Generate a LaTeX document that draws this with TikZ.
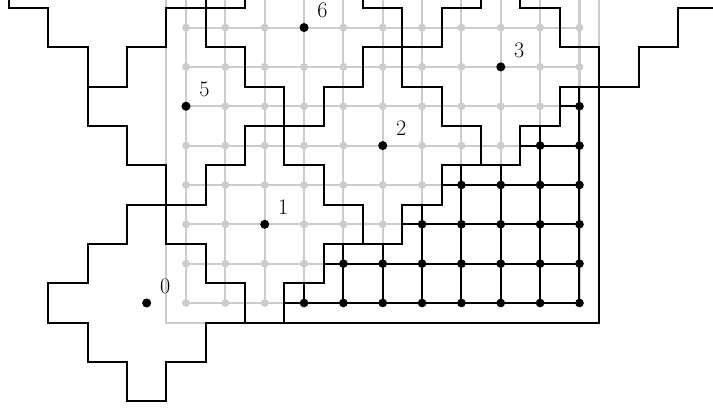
\documentclass[tikz,border=0pt]{standalone}
\begin{document}
\begin{tikzpicture}[x=1cm,y=1cm,
  gridline/.style={draw=black!20, line width=1.5pt},
  griddot/.style={fill=black!20},
  blkedge/.style={draw=black, line width=1.45pt},
  blkdot/.style={fill=black},
  tileline/.style={draw=black, line width=1.45pt, line join=miter},
  centerdot/.style={fill=black},
  lbl/.style={font=\fontsize{16}{19}\selectfont, inner sep=0pt}
]
\newcommand{\leetile}[2]{\draw[tileline] (#1,#2) ++(-0.5,2.5) -- ++(1,0) -- ++(0,-1) -- ++(1,0) -- ++(0,-1) -- ++(1,0) -- ++(0,-1) -- ++(-1,0) -- ++(0,-1) -- ++(-1,0) -- ++(0,-1) -- ++(-1,0) -- ++(0,1) -- ++(-1,0) -- ++(0,1) -- ++(-1,0) -- ++(0,1) -- ++(1,0) -- ++(0,1) -- ++(1,0) -- cycle;}
\useasboundingbox (-3.727,-2.745) rectangle (14.393,7.70);
\clip (-3.727,-2.745) rectangle (14.393,7.70);
% gray grid
\foreach \x in {1,...,11} \draw[gridline] (\x,0) -- (\x,9);
\foreach \y in {0,...,9} \draw[gridline] (1,\y) -- (11,\y);
\draw[gridline] (0.5,9) -- (0.5,-0.5) -- (11.5,-0.5) -- (11.5,9);
\foreach \x in {1,...,11} \foreach \y in {0,...,8} \fill[griddot] (\x,\y) circle (0.1);
% black part of the grid (vertices not covered by tiles)
\foreach \y/\xa in {0/4,1/5,2/7,3/8,4/10,5/11} {
  \foreach \x in {\xa,...,11} {
    \draw[blkedge] (\x,\y) -- ++(-0.5,0);
    \draw[blkedge] (\x,\y) -- ++(0,0.5);
    \ifnum\x<11 \draw[blkedge] (\x,\y) -- ++(0.5,0); \fi
    \ifnum\y>0 \draw[blkedge] (\x,\y) -- ++(0,-0.5); \fi
  }
}
\foreach \y/\xa in {0/4,1/5,2/7,3/8,4/10,5/11} {
  \foreach \x in {\xa,...,11} {
    \fill[blkdot] (\x,\y) circle (0.11);
  }
}
\draw[tileline] (3.5,-0.5) -- (11.5,-0.5) -- (11.5,5.5);
% tiles
\foreach \cx/\cy in {0/0,3/2,6/4,9/6,12/8,1/5,4/7,-1/8,7/9,2/10} {\leetile{\cx}{\cy}}
% centers and labels
\foreach \cx/\cy/\k in {0/0/0,3/2/1,6/4/2,9/6/3,1/5/5,4/7/6} {
  \fill[centerdot] (\cx,\cy) circle (0.115);
  \node[lbl] (c\k) at (\cx+0.47,\cy+0.43) {\k};
}
\end{tikzpicture}
\end{document}
